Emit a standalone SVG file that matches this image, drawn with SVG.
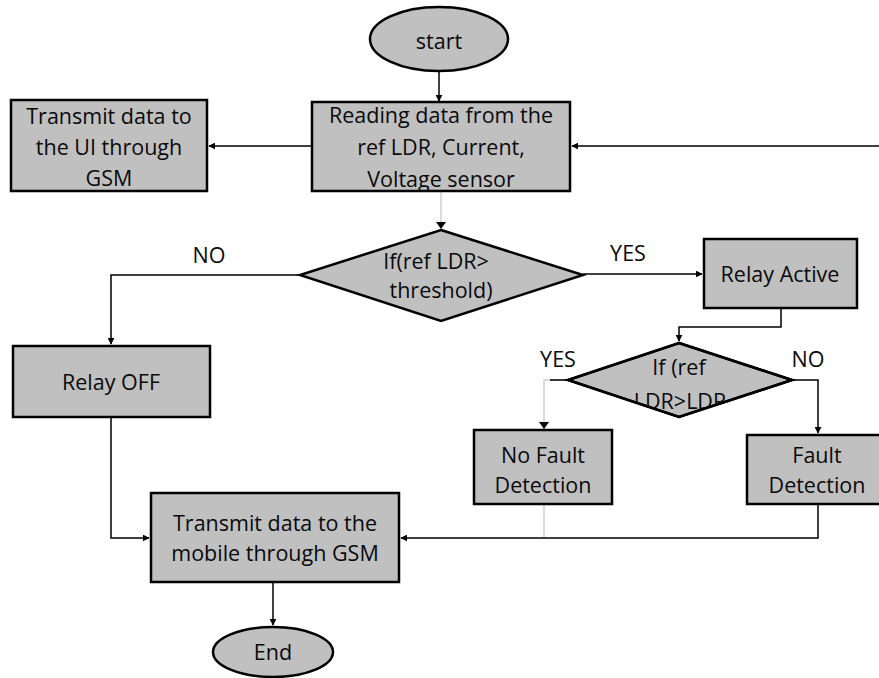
<svg xmlns="http://www.w3.org/2000/svg" width="879" height="678" viewBox="0 0 879 678">
<style>
.n{fill:#c0c0c0;stroke:#000;stroke-width:2.5}
.t{font-family:"Open Sans","Liberation Sans",sans-serif;font-size:21.5px;fill:#0a0a0a;text-anchor:middle}
.c{fill:none;stroke:#000;stroke-width:1.5}
.g{fill:none;stroke:#cfcfcf;stroke-width:1.5}
</style>
<defs>
<marker id="a" viewBox="0 0 10 10" refX="9" refY="5" markerWidth="7" markerHeight="7" orient="auto" markerUnits="userSpaceOnUse">
<path d="M0,0L10,5L0,10z" fill="#000"/>
</marker>
<clipPath id="d2clip"><polygon points="679,343 792,380 679,417 568,380"/></clipPath>
<linearGradient id="lg" x1="0" x2="1" y1="0" y2="0">
<stop offset="0" stop-color="#999"/>
<stop offset="0.4" stop-color="#222"/>
<stop offset="0.75" stop-color="#444"/>
<stop offset="1" stop-color="#ddd"/>
</linearGradient>
</defs>
<g id="connectors">
<path class="c" d="M439,72V101" marker-end="url(#a)"/>
<path class="c" d="M312,146H209" marker-end="url(#a)"/>
<path class="c" d="M879,146H572" marker-end="url(#a)"/>
<path class="g" d="M441,192V229"/>
<path d="M436,222L446,222L441,229z" fill="#000"/>
<path class="c" d="M300,275H111V344" marker-end="url(#a)"/>
<path class="c" d="M583,274H702" marker-end="url(#a)"/>
<path class="c" d="M781,308V327H679V341" marker-end="url(#a)"/>
<path class="g" d="M568,380H544V428"/>
<path class="c" d="M568,380H550"/>
<path d="M539,422L549,422L544,429z" fill="#000"/>
<path class="c" d="M792,380H818V433" marker-end="url(#a)"/>
<path class="c" d="M111,417V538H149" marker-end="url(#a)"/>
<path class="g" d="M544,504V538"/>
<path class="c" d="M818,504V538H401" marker-end="url(#a)"/>
<path class="c" d="M273,582V625" marker-end="url(#a)"/>
<path d="M275,597H879" fill="none" stroke="url(#lg)" stroke-width="1.5"/>
</g>
<g id="start"><ellipse class="n" cx="439" cy="39" rx="69" ry="32"/><text class="t" x="439" y="49">start</text></g>
<g id="read"><rect class="n" x="312" y="102" width="258" height="89"/>
<text class="t" x="441" y="123">Reading data from the</text>
<text class="t" x="441" y="155">ref LDR, Current,</text>
<text class="t" x="441" y="187">Voltage sensor</text></g>
<g id="ui"><rect class="n" x="11" y="100" width="196" height="91"/>
<text class="t" x="109" y="124">Transmit data to</text>
<text class="t" x="109" y="155">the UI through</text>
<text class="t" x="109" y="186">GSM</text></g>
<g id="dec1"><polygon class="n" points="441,230 583,275 441,321 300,275"/>
<text class="t" x="436" y="269">If(ref LDR&gt;</text>
<text class="t" x="441" y="298">threshold)</text></g>
<g id="relayoff"><rect class="n" x="13" y="346" width="197" height="71"/><text class="t" x="111" y="390">Relay OFF</text></g>
<g id="relayactive"><rect class="n" x="704" y="239" width="153" height="69"/><text class="t" x="780" y="282">Relay Active</text></g>
<g id="dec2"><polygon class="n" points="679,343 792,380 679,417 568,380"/>
<text class="t" x="679" y="375">If (ref</text>
<text class="t" x="680" y="409" clip-path="url(#d2clip)">LDR&gt;LDR</text>
<polygon points="679,343 792,380 679,417 568,380" fill="none" stroke="#000" stroke-width="2.5"/></g>
<g id="nofault"><rect class="n" x="474" y="430" width="138" height="74"/>
<text class="t" x="543" y="463">No Fault</text>
<text class="t" x="543" y="493">Detection</text></g>
<g id="fault"><rect class="n" x="747" y="435" width="141" height="69"/>
<text class="t" x="817" y="463">Fault</text>
<text class="t" x="817" y="493">Detection</text></g>
<g id="mobile"><rect class="n" x="151" y="493" width="248" height="89"/>
<text class="t" x="275" y="531">Transmit data to the</text>
<text class="t" x="275" y="561">mobile through GSM</text></g>
<g id="end"><ellipse class="n" cx="273" cy="652" rx="60" ry="25"/><text class="t" x="273" y="660">End</text></g>
<g id="labels">
<text class="t" x="209" y="263">NO</text>
<text class="t" x="628" y="261">YES</text>
<text class="t" x="558" y="367">YES</text>
<text class="t" x="808" y="367">NO</text>
</g>
</svg>
